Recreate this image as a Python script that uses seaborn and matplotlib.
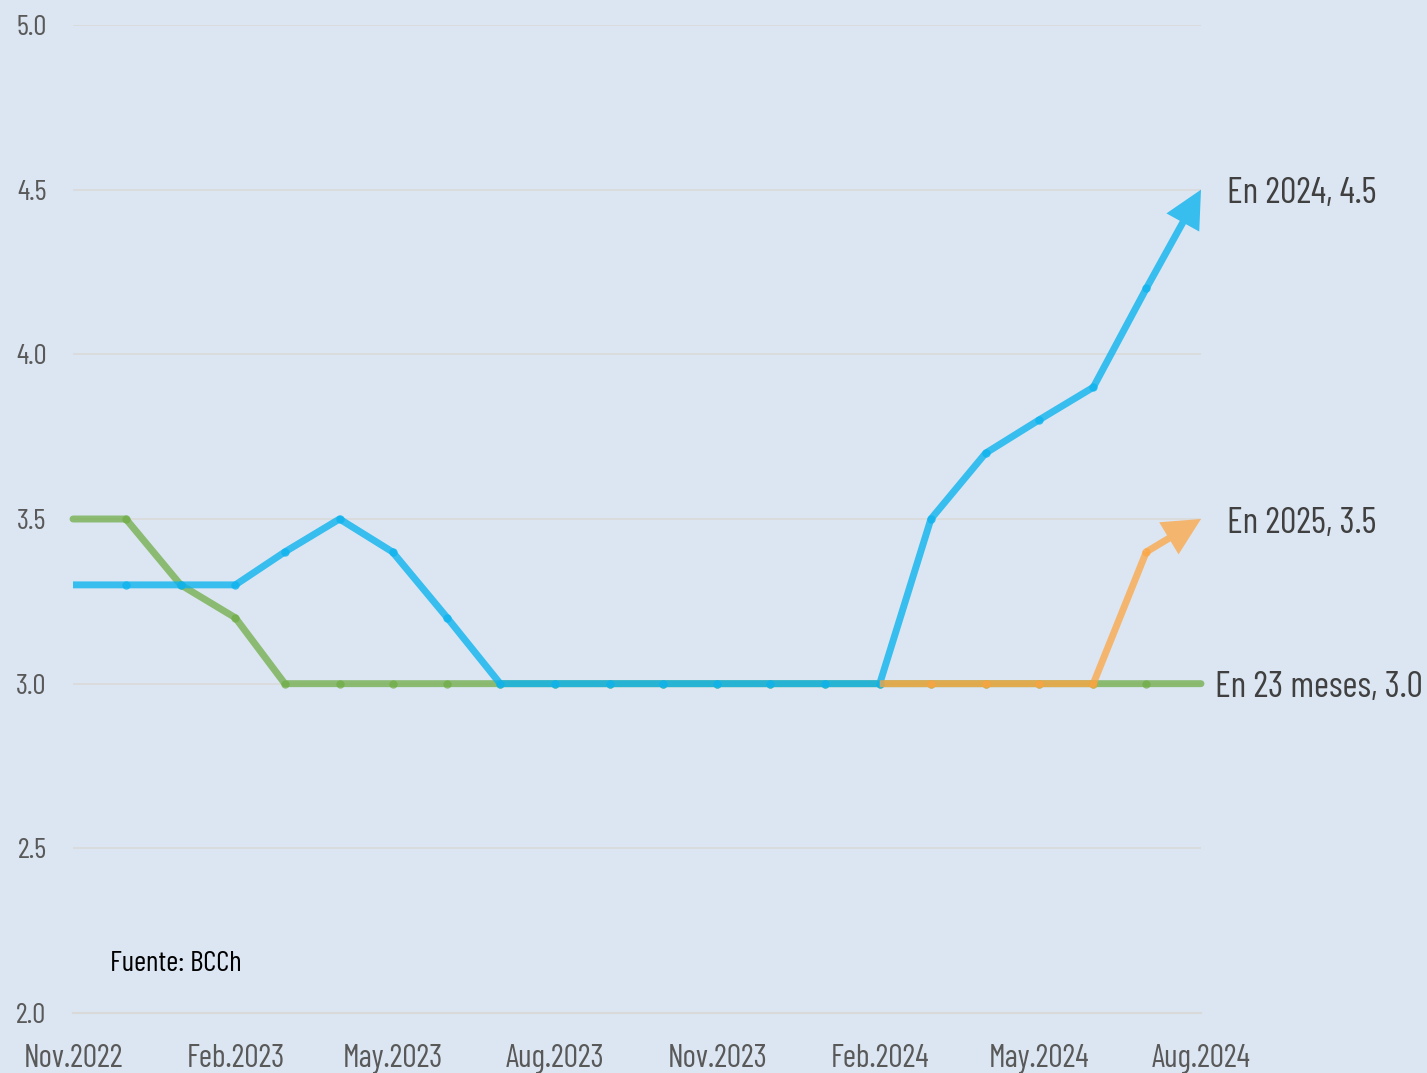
import pandas as pd
import matplotlib.pyplot as plt
import matplotlib.dates as mdates
from matplotlib import font_manager
import seaborn as sns

# monthly survey expectations (BCCh)
months = ['2022-11', '2022-12', '2023-01', '2023-02', '2023-03', '2023-04',
          '2023-05', '2023-06', '2023-07', '2023-08', '2023-09', '2023-10',
          '2023-11', '2023-12', '2024-01', '2024-02', '2024-03', '2024-04',
          '2024-05', '2024-06', '2024-07', '2024-08']
en_23_meses = [3.5, 3.5, 3.3, 3.2, 3.0, 3.0, 3.0, 3.0, 3.0, 3.0, 3.0, 3.0,
               3.0, 3.0, 3.0, 3.0, 3.0, 3.0, 3.0, 3.0, 3.0, 3.0]
en_2024 = [3.3, 3.3, 3.3, 3.3, 3.4, 3.5, 3.4, 3.2, 3.0, 3.0, 3.0, 3.0,
           3.0, 3.0, 3.0, 3.0, 3.5, 3.7, 3.8, 3.9, 4.2, 4.5]
en_2025_months = ['2024-02', '2024-03', '2024-04', '2024-05', '2024-06', '2024-07', '2024-08']
en_2025 = [3.0, 3.0, 3.0, 3.0, 3.0, 3.4, 3.5]

tick_months = ['2022-11', '2023-02', '2023-05', '2023-08', '2023-11', '2024-02', '2024-05', '2024-08']
tick_labels = ['Nov.2022', 'Feb.2023', 'May.2023', 'Aug.2023', 'Nov.2023', 'Feb.2024', 'May.2024', 'Aug.2024']
y_ticks = [2.0, 2.5, 3.0, 3.5, 4.0, 4.5, 5.0]

BG = '#dce6f2'
GRID = '#d9d9d9'
GREEN, BLUE, ORANGE = '#70ad47', '#0eb3ee', '#fda543'

sns.set_theme(style='white')

# look for a narrow font, the original uses a condensed face
names = sorted({f.name for f in font_manager.fontManager.ttflist})
narrow = None
for want in ['Barlow Condensed', 'Roboto Condensed', 'Liberation Sans Narrow',
             'DejaVu Sans Condensed', 'Open Sans Condensed', 'Noto Sans Condensed']:
    if want in names:
        narrow = want
        break
stretch = 'normal'
if narrow is None:
    for f in font_manager.fontManager.ttflist:
        if str(f.stretch) in ('condensed', 'semi-condensed', 'extra-condensed') and f.style == 'normal':
            narrow = f.name
            stretch = f.stretch
            break
if narrow is None:
    narrow = 'DejaVu Sans'
plt.rcParams['font.family'] = [narrow, 'DejaVu Sans']
plt.rcParams['font.stretch'] = stretch

dates = pd.to_datetime(months)
df = pd.DataFrame({'date': dates, 'green': en_23_meses, 'blue': en_2024})
df_or = pd.DataFrame({'date': pd.to_datetime(en_2025_months), 'orange': en_2025})

fig = plt.figure(figsize=(14.27, 10.73), dpi=100)
fig.patch.set_facecolor(BG)
ax = fig.add_axes([73 / 1427, 60 / 1073, 1128 / 1427, 988 / 1073])
ax.set_facecolor(BG)

lw = 5.0
line_kw = dict(marker='o', markersize=6, markeredgewidth=0, linewidth=lw, clip_on=False)

# green line, no arrow, no dots at the two ends
sns.lineplot(ax=ax, data=df, x='date', y='green', color=GREEN, alpha=0.75,
             markevery=slice(1, -1), solid_capstyle='round', **line_kw)

# blue + orange end in an arrow; the line goes to the last but one point
sns.lineplot(ax=ax, data=df.iloc[:-1], x='date', y='blue', color=BLUE, alpha=0.8,
             markevery=slice(1, None), solid_capstyle='butt', **line_kw)
sns.lineplot(ax=ax, data=df_or.iloc[:-1], x='date', y='orange', color=ORANGE, alpha=0.75,
             markevery=slice(1, None), solid_capstyle='butt', **line_kw)

ms = 20
for d, col, c, a in [(df, 'blue', BLUE, 0.8), (df_or, 'orange', ORANGE, 0.75)]:
    x0, y0 = mdates.date2num(d['date'].iloc[-2]), d[col].iloc[-2]
    x1, y1 = mdates.date2num(d['date'].iloc[-1]), d[col].iloc[-1]
    ax.annotate('', xy=(x1, y1), xytext=(x0, y0),
                arrowprops=dict(arrowstyle=f'simple,head_length=1.35,head_width=1.35,tail_width={lw / ms:.3f}',
                                mutation_scale=ms, lw=0, color=c, alpha=a,
                                shrinkA=0, shrinkB=0),
                annotation_clip=False)

# end labels
last = mdates.date2num(dates[-1])
lab_kw = dict(textcoords='offset points', va='center', ha='left', fontsize=26.3,
              color='#404040', annotation_clip=False)
ax.annotate('En 2024, 4.5', xy=(last, en_2024[-1]), xytext=(19, -3), **lab_kw)
ax.annotate('En 2025, 3.5', xy=(last, en_2025[-1]), xytext=(19, -3), **lab_kw)
ax.annotate('En 23 meses, 3.0', xy=(last, en_23_meses[-1]), xytext=(10, -3), **lab_kw)

ax.text(37 / 1128, 49 / 988, 'Fuente: BCCh', transform=ax.transAxes, fontsize=21,
        color='black', va='center', ha='left')

ax.set_xlim(dates[0], dates[-1])
ax.set_ylim(2.0, 5.0)
ax.set_xticks(pd.to_datetime(tick_months))
ax.set_xticklabels(tick_labels)
ax.set_yticks(y_ticks)
ax.set_yticklabels([f'{v:.1f}' for v in y_ticks])
ax.set_xlabel('')
ax.set_ylabel('')

ax.yaxis.grid(True, color=GRID, linewidth=1.2)
ax.xaxis.grid(False)
ax.set_axisbelow(True)
for s in ['left', 'right', 'top']:
    ax.spines[s].set_visible(False)
ax.spines['bottom'].set_color(GRID)
ax.spines['bottom'].set_linewidth(1.5)

ax.tick_params(axis='x', length=6, width=1.5, color=GRID, pad=16, labelsize=23, labelcolor='#595959')
ax.tick_params(axis='y', length=0, pad=19, labelsize=21, labelcolor='#595959')

plt.savefig('out.png', dpi=100, facecolor=fig.get_facecolor())
